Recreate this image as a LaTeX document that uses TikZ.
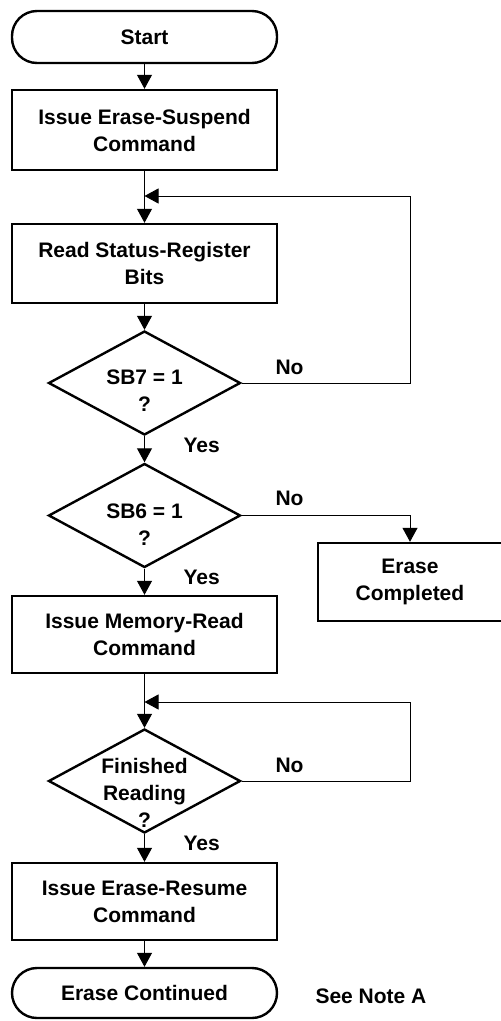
\documentclass[tikz,border=0pt]{standalone}
\usepackage{fontspec}
\setmainfont{Liberation Sans}
\usetikzlibrary{shapes.geometric,arrows.meta}
\begin{document}
\begin{tikzpicture}[x=1pt,y=-1pt,
  every node/.style={font=\fontsize{21}{27}\selectfont\bfseries, align=center},
  procbox/.style={draw, line width=2.4pt, minimum width=265pt, inner sep=0pt},
  termbox/.style={draw, line width=2.4pt, rounded corners=25pt, minimum width=265pt, inner sep=0pt},
  decbox/.style={draw, shape=diamond, line width=2.4pt, minimum width=192pt, minimum height=104pt, inner sep=0pt},
  conn/.style={line width=1pt, -{Triangle[length=14pt,width=15pt]}},
  lbl/.style={anchor=west}]
\useasboundingbox (0,0) rectangle (501,1021);

\node[termbox, minimum height=52pt] (start) at (144.5,37) {Start};
\node[procbox, minimum height=80pt] (b1) at (144.5,130) {Issue Erase-Suspend\\Command};
\coordinate (j1) at (144.5,196);
\coordinate (c1) at (410,196);
\node[procbox, minimum height=79pt] (b2) at (144.5,263.5) {Read Status-Register\\Bits};
\node[decbox] (d1) at (144.5,383) {};
\node (t1) at (144.5,390.5) {SB7 = 1\\?};
\node[decbox] (d2) at (144.5,515.5) {};
\node (t2) at (144.5,524.5) {SB6 = 1\\?};
\node[procbox, minimum width=184pt, minimum height=78pt] (ec) at (410,582) {Erase\\Completed};
\node[procbox, minimum height=77pt] (b3) at (144.5,634.5) {Issue Memory-Read\\Command};
\coordinate (j2) at (144.5,702);
\coordinate (c2) at (410,702);
\node[decbox] (d3) at (144.5,781) {};
\node (t3) at (144.5,793) {Finished\\Reading\\?};
\node[procbox, minimum height=77pt] (b4) at (144.5,901.5) {Issue Erase-Resume\\Command};
\node[termbox, minimum height=50pt] (end) at (144.5,993) {Erase Continued};

\node[lbl] (n1) at (272,367) {No};
\node[lbl] (y1) at (180,445) {Yes};
\node[lbl] (n2) at (272,498) {No};
\node[lbl] (y2) at (180,577) {Yes};
\node[lbl] (n3) at (272,765) {No};
\node[lbl] (y3) at (180,843) {Yes};
\node[lbl] (note) at (312,996) {See Note A};

\draw[conn] (start) -- (b1);
\draw[conn] (b1) -- (b2);
\draw[conn] (b2) -- (d1);
\draw[conn] (d1.east) -| (c1) -- (j1);
\draw[conn] (d1) -- (d2);
\draw[conn] (d2) -- (b3);
\draw[conn] (d2.east) -| (ec.north);
\draw[conn] (b3) -- (d3);
\draw[conn] (d3.east) -| (c2) -- (j2);
\draw[conn] (d3) -- (b4);
\draw[conn] (b4) -- (end);
\end{tikzpicture}
\end{document}
